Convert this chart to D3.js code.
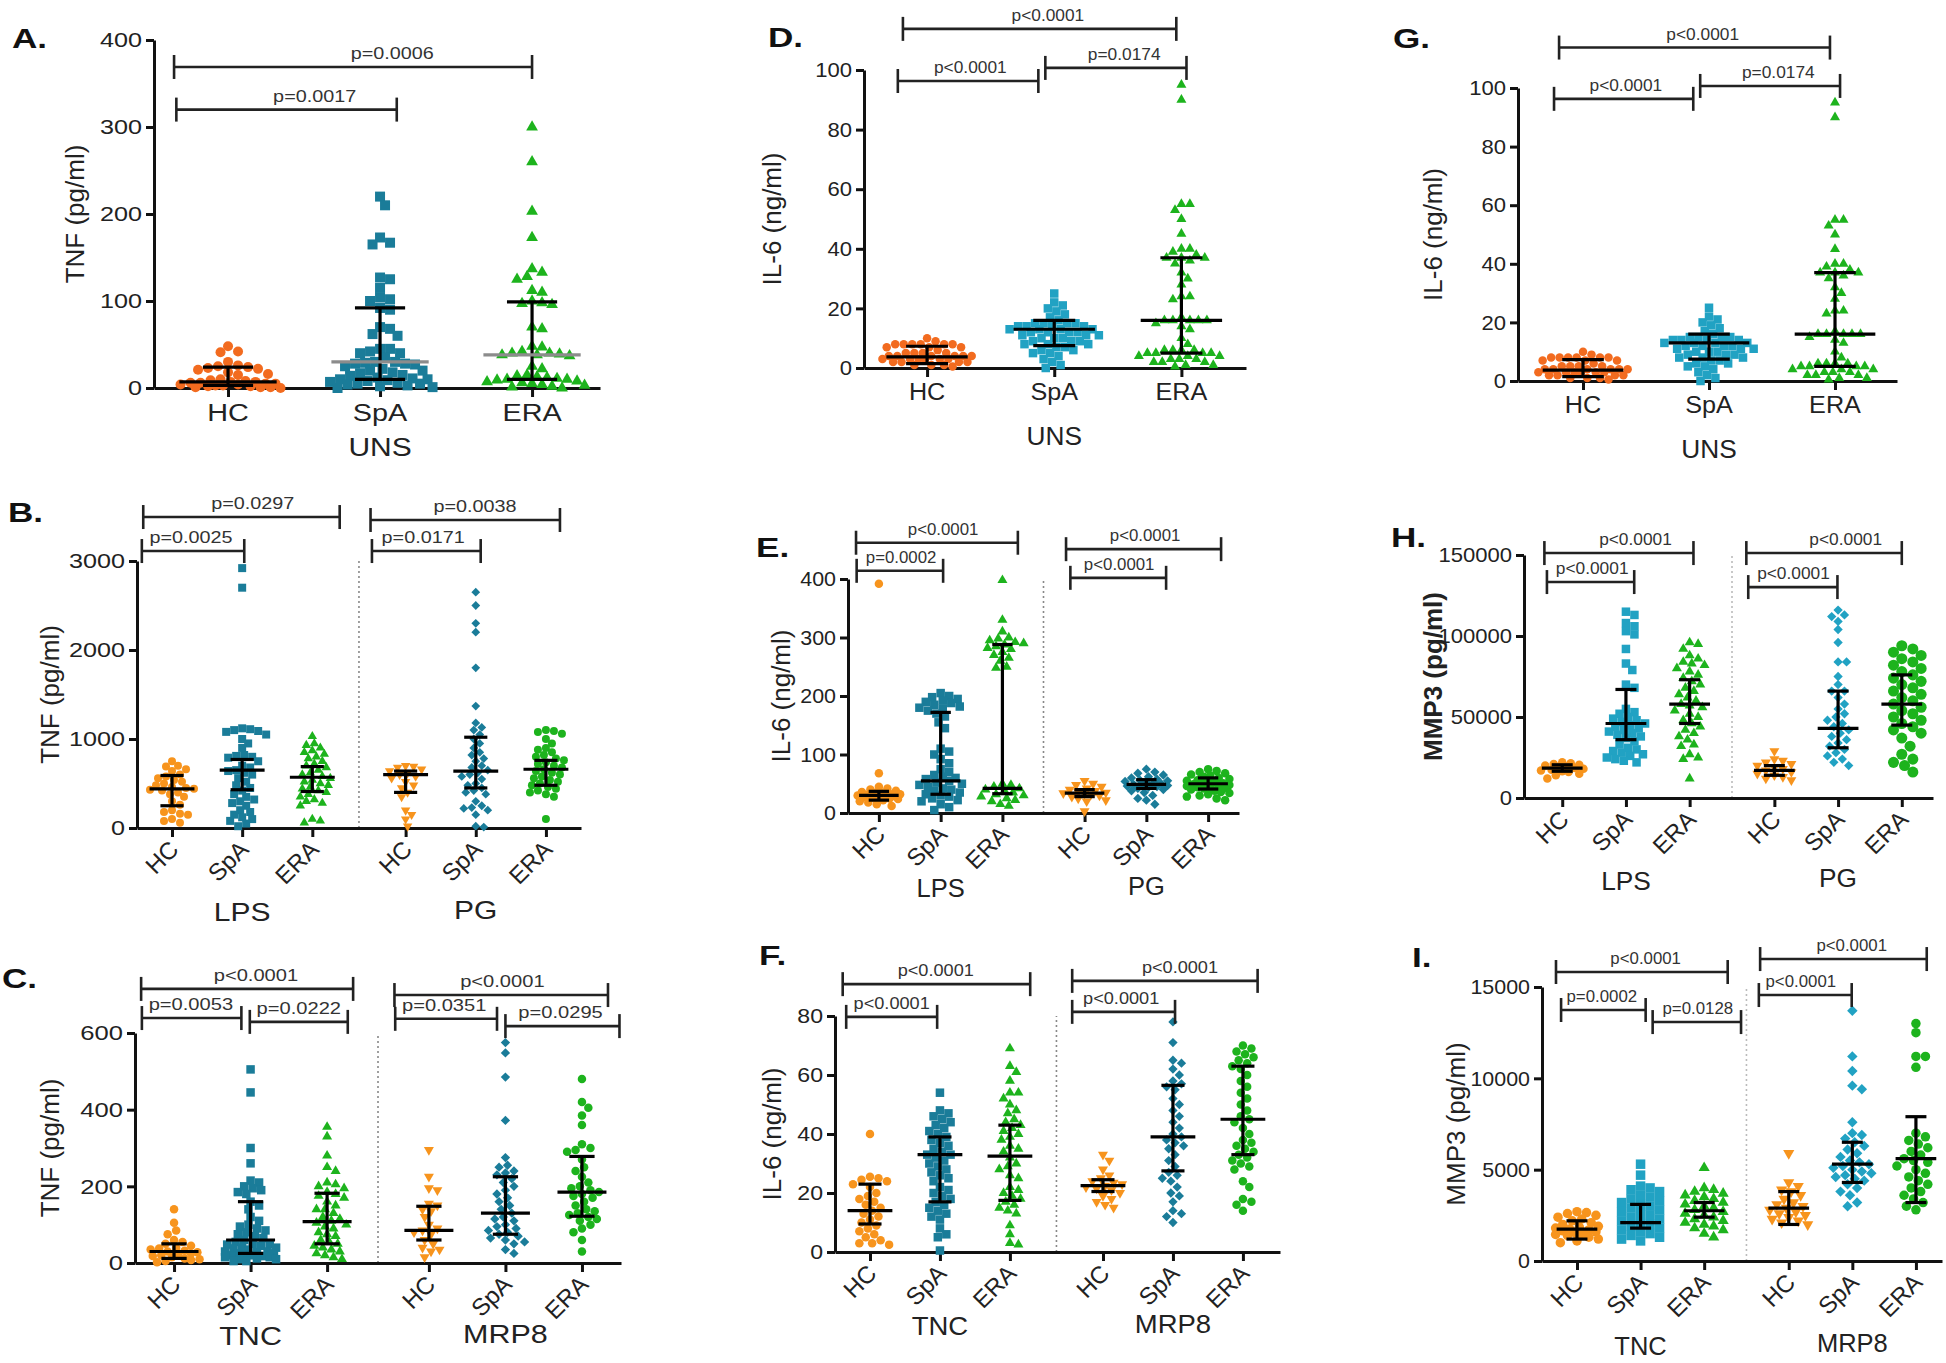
<!DOCTYPE html>
<html>
<head>
<meta charset="utf-8">
<script src="https://cdn.jsdelivr.net/npm/d3@7"></script>
<style>
  body { margin: 0; background: #fff; }
  svg { display: block; font-family: "Liberation Sans", Arial, sans-serif; }
</style>
</head>
<body>
<svg id="chart" width="1946" height="1363"></svg>
<script>
// ---- categories / tick labels ----
const cats3 = ["HC", "SpA", "ERA"];
const cats6 = ["HC", "SpA", "ERA", "HC", "SpA", "ERA"];

// ---- A. TNF, unstimulated ----
const tnfUnsHC = [48, 42, 41, 30, 26, 25, 24, 23, 22, 21, 18, 16, 15, 10, 9, 8, 7, 7, 6, 6, 5, 5, 4, 4, 3, 3, 2, 2, 1, 1, 1, 0];
const tnfUnsSpA = [220, 210, 173, 167, 165, 127, 125, 115, 104, 102, 100, 92, 90, 70, 68, 62, 60, 45, 45, 42, 40, 40, 35, 30, 30, 29, 28, 28, 27, 25, 22, 20, 20, 18, 17, 15, 14, 12, 11, 10, 10, 9, 8, 7, 6, 5, 5, 4, 3, 2, 1, 0];
const tnfUnsERA = [300, 260, 203, 173, 137, 133, 128, 125, 112, 110, 100, 98, 97, 96, 70, 68, 48, 47, 42, 40, 40, 39, 38, 38, 37, 25, 22, 15, 14, 13, 12, 11, 10, 10, 9, 8, 7, 6, 5, 4, 3, 2, 1, 0];
const tnfUnsStats = [[7, 3, 24], [30, 10, 92], [38, 10, 99]]; // median, q1, q3
const tnfUnsP = [[-0.355, 2.0, 369, 1.08, "p=0.0006"], [-0.34, 1.11, 320, 0.57, "p=0.0017"]];

// ---- B. TNF, LPS / PG ----
const tnfLpsHC = [750, 700, 690, 660, 640, 600, 580, 560, 540, 520, 500, 480, 460, 450, 440, 430, 420, 400, 380, 350, 300, 260, 200, 180, 160, 150, 100, 80, 60];
const tnfLpsSpA = [2920, 2700, 1120, 1110, 1100, 1090, 1080, 1050, 1000, 950, 900, 820, 810, 800, 790, 750, 700, 680, 650, 640, 620, 600, 560, 520, 480, 450, 420, 380, 350, 320, 300, 280, 250, 200, 180, 150, 120, 100, 80, 50, 20];
const tnfLpsERA = [1030, 950, 930, 900, 870, 850, 830, 800, 780, 750, 720, 700, 680, 650, 620, 600, 580, 560, 540, 520, 500, 480, 460, 440, 420, 400, 380, 350, 320, 300, 280, 250, 100, 80, 60];
const tnfPgHC = [700, 690, 680, 660, 640, 620, 600, 580, 560, 520, 480, 450, 400, 350, 200, 150, 100, 20];
const tnfPgSpA = [2650, 2500, 2300, 2200, 1800, 1370, 1180, 1130, 1100, 1050, 1000, 950, 900, 850, 820, 780, 750, 700, 680, 650, 620, 600, 580, 550, 500, 480, 450, 420, 400, 380, 300, 250, 230, 220, 200, 150, 20, 10];
const tnfPgERA = [1100, 1090, 1080, 1060, 1000, 950, 900, 880, 850, 820, 800, 780, 760, 740, 720, 700, 680, 660, 640, 620, 600, 580, 560, 540, 520, 500, 480, 460, 440, 420, 400, 380, 350, 100];
const tnfLpsPgStats = [[440, 250, 590], [650, 430, 770], [570, 410, 690], [600, 400, 640], [640, 450, 1020], [660, 480, 760]];
const tnfLpsPgP = [[-0.41, 2.39, 3494, 1.15, "p=0.0297"], [-0.43, 1.03, 3112, 0.27, "p=0.0025"],
                   [2.83, 5.53, 3461, 4.32, "p=0.0038"], [2.85, 4.40, 3112, 3.58, "p=0.0171"]];

// ---- C. TNF, TNC / MRP8 ----
const tnfTncHC = [140, 105, 85, 75, 60, 55, 50, 45, 40, 38, 35, 32, 30, 28, 25, 22, 20, 18, 15, 12, 10, 8, 5, 2];
const tnfTncSpA = [505, 445, 300, 260, 215, 210, 200, 195, 190, 185, 180, 160, 150, 140, 120, 110, 100, 95, 90, 85, 80, 75, 70, 65, 60, 55, 50, 50, 48, 45, 40, 40, 38, 35, 30, 30, 28, 25, 25, 22, 20, 20, 18, 15, 15, 12, 10, 10, 5, 5];
const tnfTncERA = [355, 330, 280, 250, 240, 210, 205, 200, 195, 185, 180, 175, 170, 160, 150, 140, 140, 130, 120, 115, 110, 105, 100, 95, 90, 80, 75, 70, 60, 55, 50, 45, 40, 35, 30, 25, 20, 15, 10];
const tnfMrpHC = [295, 225, 195, 190, 155, 150, 140, 135, 120, 100, 90, 85, 80, 75, 60, 50, 40, 35, 30, 15];
const tnfMrpSpA = [575, 548, 485, 372, 275, 255, 250, 240, 235, 230, 220, 210, 200, 190, 180, 170, 160, 150, 140, 130, 120, 115, 110, 100, 95, 90, 85, 80, 75, 70, 65, 60, 55, 50, 35, 25];
const tnfMrpERA = [480, 420, 405, 385, 360, 310, 300, 295, 290, 270, 250, 240, 225, 210, 200, 195, 190, 185, 180, 175, 170, 160, 150, 140, 135, 130, 125, 120, 115, 110, 100, 90, 80, 60, 30];
const tnfTncMrpStats = [[30, 12, 50], [60, 25, 160], [108, 50, 182], [85, 60, 148], [130, 75, 225], [185, 122, 278]];
const tnfTncMrpP = [[-0.43, 2.34, 715, 1.07, "p<0.0001"], [-0.42, 0.88, 639, 0.22, "p=0.0053"], [0.99, 2.27, 629, 1.63, "p=0.0222"],
                    [2.88, 5.67, 699, 4.29, "p<0.0001"], [2.89, 4.22, 637, 3.53, "p=0.0351"], [4.33, 5.82, 618, 5.05, "p=0.0295"]];

// ---- D./G. IL-6, unstimulated ----
const il6UnsHC = [10, 9, 8, 8, 8, 8, 8, 8, 7, 7, 7, 6, 5, 5, 5, 5, 4, 4, 4, 4, 4, 4, 3, 3, 3, 3, 3, 3, 2, 2, 2, 2, 1, 1, 1, 0.5];
const il6UnsSpA = [25, 22, 21, 20, 19, 18, 17, 16, 15, 15, 15, 15, 14, 14, 14, 14, 13, 13, 13, 13, 12, 12, 12, 12, 11, 11, 11, 10, 10, 10, 9, 9, 9, 8, 8, 8, 7, 7, 6, 6, 5, 5, 4, 3, 2, 1, 0];
const il6UnsERA = [95, 90, 55, 55, 53, 50, 45, 40, 40, 39, 38, 37, 37, 37, 36, 35, 32, 30, 28, 24, 24, 23, 17, 16, 16, 16, 16, 16, 15, 14, 13, 10, 8, 6, 6, 6, 6, 5, 5, 5, 5, 4, 4, 4, 3, 3, 3, 2, 2, 2, 1, 1, 0.5];
const il6UnsStats = [[3.7, 1.5, 7.3], [13, 7.5, 16], [16, 5, 37]];
const il6UnsP = [[-0.19, 1.96, 113.8, 0.95, "p<0.0001"], [-0.23, 0.875, 96.3, 0.34, "p<0.0001"], [0.93, 2.04, 100.7, 1.55, "p=0.0174"]];

// ---- E. IL-6, LPS / PG ----
const il6LpsHC = [392, 68, 45, 42, 40, 38, 36, 35, 34, 33, 32, 31, 30, 30, 29, 28, 27, 26, 25, 24, 22, 20, 18, 15, 12];
const il6LpsSpA = [205, 200, 198, 195, 192, 190, 188, 185, 182, 180, 178, 175, 170, 165, 155, 145, 110, 105, 100, 92, 85, 75, 70, 65, 62, 60, 58, 55, 52, 50, 48, 45, 42, 40, 38, 35, 32, 30, 28, 25, 22, 20, 15, 10, 5];
const il6LpsERA = [398, 330, 310, 300, 298, 295, 292, 290, 288, 285, 282, 280, 275, 270, 265, 260, 250, 248, 50, 48, 45, 42, 40, 38, 35, 32, 30, 28, 25, 22, 20, 15, 12];
const il6PgHC = [55, 50, 48, 45, 42, 40, 38, 36, 35, 34, 33, 32, 30, 28, 25, 22, 20, 3];
const il6PgSpA = [75, 70, 68, 65, 62, 60, 58, 56, 55, 54, 52, 50, 50, 49, 48, 47, 46, 45, 44, 42, 40, 38, 35, 30, 25, 22, 15];
const il6PgERA = [75, 72, 70, 68, 66, 64, 62, 60, 58, 56, 55, 54, 52, 51, 50, 49, 48, 47, 46, 45, 44, 43, 42, 40, 38, 36, 34, 32, 30, 28, 25, 22];
const il6LpsPgStats = [[30, 22, 37], [55, 32, 172], [42, 33, 288], [34, 28, 40], [49, 42, 57], [50, 41, 60]];
const il6LpsPgP = [[-0.37, 2.25, 462, 1.04, "p<0.0001"], [-0.36, 1.04, 414, 0.36, "p=0.0002"],
                   [3.03, 5.54, 451, 4.31, "p<0.0001"], [3.10, 4.65, 402, 3.89, "p<0.0001"]];

// ---- F. IL-6, TNC / MRP8 ----
const il6TncHC = [40, 25.5, 25, 24.5, 24, 23, 22, 20, 19, 18, 17, 16, 15, 14, 13, 12, 11, 10, 9, 8, 7, 6, 5, 4, 3, 3, 2.5];
const il6TncSpA = [54, 48, 47, 46, 45, 44, 43, 42, 41, 40, 39, 38, 37, 36, 35, 34, 33, 33, 32, 31, 30, 29, 28, 27, 26, 25, 24, 22, 21, 20, 19, 18, 17, 16, 15, 14, 13, 12, 11, 8, 6, 5, 0.5];
const il6TncERA = [69, 63, 61, 58, 54, 54, 52, 50, 48, 47, 45, 44, 43, 42, 41, 40, 39, 38, 36, 35, 34, 32, 30, 29, 28, 26, 25, 22, 21, 20, 19, 18, 17, 16, 15, 14, 13, 9, 6, 3, 2.5];
const il6MrpHC = [33, 31, 28, 26, 25, 24, 23.5, 23, 22.5, 22, 21.5, 21, 20, 19, 18, 17, 16, 15];
const il6MrpSpA = [78, 71, 65, 64, 62, 60, 58, 57, 56, 55, 52, 50, 48, 46, 44, 42, 40, 39, 38, 37, 36, 35, 33, 31, 29, 27, 26, 25, 24, 22, 20, 19, 17, 14, 13, 12, 10];
const il6MrpERA = [70, 69, 68, 67, 66, 65, 64, 63, 62, 60, 58, 56, 54, 52, 50, 48, 46, 45, 44, 42, 40, 38, 37, 36, 35, 34, 33, 32, 31, 30, 29, 28, 24, 22, 18, 17, 16, 14];
const il6TncMrpStats = [[14, 9.5, 23], [33, 17, 39], [32.5, 17.5, 43], [22.5, 20.5, 24.5], [39, 27.5, 56.5], [45, 33, 63]];
const il6TncMrpP = [[-0.39, 2.29, 90.8, 0.94, "p<0.0001"], [-0.34, 0.96, 79.7, 0.31, "p<0.0001"],
                    [2.89, 5.54, 91.9, 4.43, "p<0.0001"], [2.89, 4.36, 81.4, 3.59, "p<0.0001"]];

// ---- H. MMP3, LPS / PG ----
const mmpLpsHC = [22000, 21500, 21000, 20500, 20000, 19500, 19000, 18500, 18000, 17500, 17000, 16500, 16000, 15000, 14000, 12000];
const mmpLpsSpA = [115000, 113000, 108000, 106000, 103000, 101000, 92000, 83000, 79000, 70000, 68000, 55000, 53000, 52000, 50000, 49000, 48000, 47000, 46000, 45000, 44000, 43000, 42000, 41000, 40000, 39000, 38000, 37000, 35000, 33000, 31000, 30000, 29000, 28000, 27000, 26000, 25000, 24000, 23000, 22000];
const mmpLpsERA = [96000, 95000, 92000, 88000, 86000, 84000, 83000, 82000, 80000, 78000, 76000, 74000, 72000, 70000, 68000, 66000, 64000, 62000, 60000, 58000, 57000, 56000, 54000, 52000, 50000, 48000, 46000, 44000, 42000, 40000, 38000, 36000, 33000, 32000, 27000, 25000, 24000, 12000];
const mmpPgHC = [29000, 24000, 23000, 22000, 21000, 20000, 19000, 18000, 17000, 16000, 15000, 14000, 13000, 12000, 11000];
const mmpPgSpA = [116000, 113000, 112000, 109000, 104000, 96000, 84000, 84000, 75000, 70000, 66000, 66000, 62000, 58000, 55000, 52000, 50000, 48000, 46000, 44000, 42000, 40000, 38000, 36000, 34000, 32000, 30000, 28000, 26000, 24000, 22000, 20000];
const mmpPgERA = [94000, 92000, 90000, 88000, 86000, 84000, 82000, 80000, 78000, 76000, 74000, 72000, 70000, 68000, 66000, 64000, 62000, 60000, 58000, 56000, 54000, 52000, 50000, 48000, 46000, 44000, 42000, 40000, 37000, 32000, 27000, 24000, 22000, 20000, 16000];
const mmpLpsPgStats = [[18500, 16500, 20500], [46000, 36000, 67000], [58000, 46000, 73000], [17000, 14000, 20000], [43000, 31000, 66000], [58000, 45000, 76000]];
const mmpLpsPgP = [[-0.28, 2.06, 151200, 1.15, "p<0.0001"], [-0.24, 1.13, 133300, 0.47, "p<0.0001"],
                   [2.89, 5.33, 151200, 4.45, "p<0.0001"], [2.92, 4.32, 130200, 3.63, "p<0.0001"]];

// ---- I. MMP3, TNC / MRP8 ----
const mmpTncHC = [2700, 2650, 2600, 2500, 2400, 2300, 2200, 2100, 2000, 1900, 1850, 1800, 1750, 1700, 1650, 1600, 1550, 1500, 1450, 1400, 1300, 1200, 1100, 1000];
const mmpTncSpA = [5300, 4700, 4100, 4000, 3900, 3800, 3600, 3500, 3400, 3300, 3200, 3100, 3000, 2900, 2800, 2700, 2600, 2500, 2400, 2300, 2200, 2100, 2000, 1900, 1800, 1700, 1600, 1500, 1400, 1300, 1200, 1100];
const mmpTncERA = [5100, 4000, 3900, 3800, 3700, 3600, 3500, 3400, 3300, 3200, 3100, 3000, 2900, 2800, 2700, 2600, 2500, 2400, 2300, 2200, 2100, 2000, 1900, 1800, 1700, 1500, 1300];
const mmpMrpHC = [5900, 4300, 4100, 3900, 3800, 3600, 3400, 3200, 3100, 3000, 2900, 2800, 2700, 2600, 2500, 2400, 2300, 2200, 2100, 2000];
const mmpMrpSpA = [13700, 11200, 10400, 9600, 9400, 7600, 7000, 6900, 6700, 6500, 6300, 6100, 5900, 5700, 5500, 5400, 5300, 5200, 5100, 5000, 4900, 4800, 4700, 4600, 4500, 4400, 4200, 4000, 3800, 3600, 3200, 3000];
const mmpMrpERA = [13000, 12500, 11200, 11200, 10600, 7000, 6800, 6600, 6400, 6200, 6000, 5800, 5600, 5500, 5400, 5200, 5000, 4800, 4600, 4400, 4200, 4000, 3800, 3600, 3400, 3200, 3000, 2800];
const mmpTncMrpStats = [[1750, 1200, 2200], [2100, 1800, 3100], [2750, 2400, 3200], [2900, 2000, 3800], [5300, 4300, 6500], [5600, 3200, 7900]];
const mmpTncMrpP = [[-0.33, 2.37, 15820, 1.08, "p<0.0001"], [-0.25, 1.08, 13740, 0.39, "p=0.0002"], [1.19, 2.58, 13080, 1.90, "p=0.0128"],
                    [2.88, 5.50, 16530, 4.32, "p<0.0001"], [2.86, 4.32, 14560, 3.52, "p<0.0001"]];

// ---- styling ----
const orange = "#F7941D", orangeRed = "#F26B1F", tealDark = "#1A7C99", tealLight = "#21A2C3", green = "#1DB31D";
const shapes6 = ["circle", "square", "triangle", "triangleDown", "diamond", "circle"];
const slots3 = [0, 1, 2];
const slots6 = [0, 1, 2, 3.33, 4.33, 5.33];

const panels = [
  { letter: "A.", lx: 12, ly: 48, yLabel: "TNF (pg/ml)", ylx: 75, axisX: 154, xEnd: 600, y0: 388, yTop: 40,
    ticks: [0, 100, 200, 300, 400], xDomain: [-0.487, 2.447], cats: cats3, slots: slots3, rotate: false, catY: 421,
    groups: [["UNS", 1, 456]], series: [tnfUnsHC, tnfUnsSpA, tnfUnsERA], stats: tnfUnsStats, brackets: tnfUnsP,
    colors: [orangeRed, tealDark, green], dot: 10, medColors: ["#000", "#8c8c8c", "#8c8c8c"], sx: 1.2 },
  { letter: "B.", lx: 8, ly: 522, yLabel: "TNF (pg/ml)", ylx: 50, axisX: 137, xEnd: 581, y0: 828, yTop: 561,
    ticks: [0, 1000, 2000, 3000], xDomain: [-0.499, 5.83], cats: cats6, slots: slots6, rotate: true,
    groups: [["LPS", 1, 921], ["PG", 4.33, 919]], series: [tnfLpsHC, tnfLpsSpA, tnfLpsERA, tnfPgHC, tnfPgSpA, tnfPgERA],
    stats: tnfLpsPgStats, brackets: tnfLpsPgP, colors: [orange, tealDark, green, orange, tealDark, green], dot: 8, divider: "#888", sx: 1.2 },
  { letter: "C.", lx: 2, ly: 988, yLabel: "TNF (pg/ml)", ylx: 50, axisX: 135, xEnd: 621, y0: 1263, yTop: 1033,
    ticks: [0, 200, 400, 600], xDomain: [-0.51, 5.84], cats: cats6, slots: slots6, rotate: true,
    groups: [["TNC", 1, 1345], ["MRP8", 4.33, 1343]], series: [tnfTncHC, tnfTncSpA, tnfTncERA, tnfMrpHC, tnfMrpSpA, tnfMrpERA],
    stats: tnfTncMrpStats, brackets: tnfTncMrpP, colors: [orange, tealDark, green, orange, tealDark, green], dot: 8.5, divider: "#888", sx: 1.22 },
  { letter: "D.", lx: 768, ly: 47, yLabel: "IL-6 (ng/ml)", ylx: 772, axisX: 864, xEnd: 1246, y0: 368, yTop: 70,
    ticks: [0, 20, 40, 60, 80, 100], xDomain: [-0.496, 2.508], cats: cats3, slots: slots3, rotate: false, catY: 400,
    groups: [["UNS", 1, 445]], series: [il6UnsHC, il6UnsSpA, il6UnsERA], stats: il6UnsStats, brackets: il6UnsP,
    colors: [orangeRed, tealLight, green], dot: 8.5, sx: 1.05 },
  { letter: "E.", lx: 756, ly: 557, yLabel: "IL-6 (ng/ml)", ylx: 781, axisX: 848, xEnd: 1239, y0: 813, yTop: 579,
    ticks: [0, 100, 200, 300, 400], xDomain: [-0.50, 5.83], cats: cats6, slots: slots6, rotate: true,
    groups: [["LPS", 1, 897], ["PG", 4.33, 895]], series: [il6LpsHC, il6LpsSpA, il6LpsERA, il6PgHC, il6PgSpA, il6PgERA],
    stats: il6LpsPgStats, brackets: il6LpsPgP, colors: [orange, tealDark, green, orange, tealDark, green], dot: 8.5, divider: "#888", sx: 1.02 },
  { letter: "F.", lx: 759, ly: 965, yLabel: "IL-6 (ng/ml)", ylx: 772, axisX: 835, xEnd: 1280, y0: 1252, yTop: 1016,
    ticks: [0, 20, 40, 60, 80], xDomain: [-0.50, 5.86], cats: cats6, slots: slots6, rotate: true,
    groups: [["TNC", 1, 1335], ["MRP8", 4.33, 1333]], series: [il6TncHC, il6TncSpA, il6TncERA, il6MrpHC, il6MrpSpA, il6MrpERA],
    stats: il6TncMrpStats, brackets: il6TncMrpP, colors: [orange, tealDark, green, orange, tealDark, green], dot: 8.5, divider: "#888", sx: 1.1 },
  { letter: "G.", lx: 1393, ly: 48, yLabel: "IL-6 (ng/ml)", ylx: 1433, axisX: 1518, xEnd: 1897, y0: 381, yTop: 88,
    ticks: [0, 20, 40, 60, 80, 100], xDomain: [-0.516, 2.492], cats: cats3, slots: slots3, rotate: false, catY: 413,
    groups: [["UNS", 1, 458]], series: [il6UnsHC, il6UnsSpA, il6UnsERA], stats: il6UnsStats, brackets: il6UnsP,
    colors: [orangeRed, tealLight, green], dot: 8.5, sx: 1.05 },
  { letter: "H.", lx: 1391, ly: 547, yLabel: "MMP3 (pg/ml)", ylx: 1433, axisX: 1524, xEnd: 1933, y0: 798, yTop: 555,
    ticks: [0, 50000, 100000, 150000], xDomain: [-0.6, 5.82], cats: cats6, slots: slots6, rotate: true,
    groups: [["LPS", 1, 890], ["PG", 4.33, 887]], series: [mmpLpsHC, mmpLpsSpA, mmpLpsERA, mmpPgHC, mmpPgSpA, mmpPgERA],
    stats: mmpLpsPgStats, brackets: mmpLpsPgP, colors: [orange, tealLight, green, orange, tealLight, green], dot: 8.5,
    dotScale: [1, 1, 1, 1, 1, 1.3], divider: "#bbb", yLabelWeight: "bold", sx: 1.05 },
  { letter: "I.", lx: 1412, ly: 967, yLabel: "MMP3 (pg/ml)", ylx: 1456, axisX: 1542, xEnd: 1942, y0: 1261, yTop: 987,
    ticks: [0, 5000, 10000, 15000], xDomain: [-0.55, 5.74], cats: cats6, slots: slots6, rotate: true,
    groups: [["TNC", 1, 1355], ["MRP8", 4.33, 1352]], series: [mmpTncHC, mmpTncSpA, mmpTncERA, mmpMrpHC, mmpMrpSpA, mmpMrpERA],
    stats: mmpTncMrpStats, brackets: mmpTncMrpP, colors: [orange, tealLight, green, orange, tealLight, green], dot: 9.5, divider: "#bbb", sx: 1.02 }
];

const svg = d3.select("#chart");
svg.append("rect").attr("width", 1946).attr("height", 1363).attr("fill", "#fff");

function symbolPath(shape, d) {
  if (shape === "circle") return d3.symbol(d3.symbolCircle, Math.PI * (d / 2) * (d / 2))();
  if (shape === "square") return d3.symbol(d3.symbolSquare, d * d)();
  if (shape === "diamond") return d3.symbol(d3.symbolSquare, d * d * 0.6)();
  return d3.symbol(d3.symbolTriangle, d * d * 0.6)();
}

// beeswarm limited to +-maxW: nearest free spot, else the least crowded one
function swarm(values, y, cx, d, maxW) {
  const pts = [];
  const n = Math.floor(maxW / (d * 0.25));
  values.slice().sort((a, b) => b - a).forEach(v => {
    const py = y(v);
    let best = cx, bestD = -1;
    for (let i = 0; i <= 2 * n; i++) {
      const k = Math.ceil(i / 2) * (i % 2 ? 1 : -1);
      const px = cx + k * d * 0.25;
      let md = Infinity;
      pts.forEach(p => { md = Math.min(md, Math.hypot(p.x - px, p.y - py)); });
      if (md >= d * 0.92) { best = px; break; }
      if (md > bestD + 0.01) { bestD = md; best = px; }
    }
    pts.push({ x: best, y: py });
  });
  return pts;
}

// horizontal text, stretched sideways like the source figure
function htext(g, x, y, str, size, sx, anchor) {
  return g.append("text").attr("transform", `translate(${x},${y}) scale(${sx},1)`)
    .attr("text-anchor", anchor || "middle").attr("font-size", size).attr("fill", "#222").text(str);
}

panels.forEach(p => {
  const g = svg.append("g");
  const yMax = p.ticks[p.ticks.length - 1];
  const y = d3.scaleLinear().domain([0, yMax]).range([p.y0, p.yTop]);
  const x = d3.scaleLinear().domain(p.xDomain).range([p.axisX, p.xEnd]);
  const step = x(1) - x(0);

  if (p.divider) {
    g.append("line").attr("x1", x(2.665)).attr("x2", x(2.665)).attr("y1", p.y0).attr("y2", p.yTop)
      .attr("stroke", p.divider).attr("stroke-width", 1.6).attr("stroke-dasharray", "2,3");
  }

  // axes
  const yAxis = g.append("g").attr("transform", `translate(${p.axisX},0)`)
    .call(d3.axisLeft(y).tickValues(p.ticks).tickSize(8).tickSizeOuter(0).tickPadding(4).tickFormat(d3.format("d")));
  yAxis.selectAll("path, line").attr("stroke", "#111").attr("stroke-width", 3);
  yAxis.selectAll("text").attr("font-size", 21).attr("fill", "#222").attr("font-family", null)
    .attr("x", -12 / p.sx).attr("transform", `scale(${p.sx},1)`);

  const xAxis = g.append("g").attr("transform", `translate(0,${p.y0})`)
    .call(d3.axisBottom(x).tickValues(p.slots).tickSize(9).tickSizeOuter(0).tickFormat(""));
  xAxis.selectAll("path, line").attr("stroke", "#111").attr("stroke-width", 3);

  // category labels
  p.cats.forEach((c, i) => {
    const cx = x(p.slots[i]);
    if (p.rotate) {
      g.append("text").attr("transform", `translate(${cx + 2},${p.y0 + 17}) rotate(-45)`)
        .attr("text-anchor", "end").attr("dy", "0.35em").attr("font-size", 24).attr("fill", "#222").text(c);
    } else {
      htext(g, cx, p.catY, c, 24, p.sx);
    }
  });
  p.groups.forEach(([t, s, gy]) => htext(g, x(s), gy, t, 25, p.sx));

  // y label & panel letter
  g.append("text").attr("transform", `translate(${p.ylx},${(p.y0 + p.yTop) / 2}) rotate(-90)`)
    .attr("text-anchor", "middle").attr("dy", "0.35em").attr("font-size", 26)
    .attr("font-weight", p.yLabelWeight || "normal").attr("fill", "#222").text(p.yLabel);
  htext(g, p.lx, p.ly, p.letter, 27, 1.3, "start").attr("font-weight", "bold").attr("fill", "#111");

  // points
  p.series.forEach((vals, i) => {
    const cx = x(p.slots[i]);
    const d = p.dot * (p.dotScale ? p.dotScale[i] : 1);
    const shape = p.cats.length === 3 ? ["circle", "square", "triangle"][i] : shapes6[i];
    const path = symbolPath(shape, d);
    const rot = shape === "triangleDown" ? " rotate(180)" : shape === "diamond" ? " rotate(45)" : "";
    g.append("g").selectAll("path").data(swarm(vals, y, cx, d, step * 0.36)).join("path")
      .attr("d", path).attr("transform", q => `translate(${q.x},${q.y})${rot}`)
      .attr("fill", p.colors[i]);
  });

  // median + IQR bars
  p.stats.forEach(([med, q1, q3], i) => {
    const cx = x(p.slots[i]);
    const medW = step * 0.32, capW = step * 0.165;
    const bars = g.append("g").attr("stroke", "#000").attr("stroke-width", 3.2);
    bars.append("line").attr("x1", cx).attr("x2", cx).attr("y1", y(q1)).attr("y2", y(q3));
    [q1, q3].forEach(q => bars.append("line").attr("x1", cx - capW).attr("x2", cx + capW).attr("y1", y(q)).attr("y2", y(q)));
    bars.append("line").attr("x1", cx - medW).attr("x2", cx + medW).attr("y1", y(med)).attr("y2", y(med))
      .attr("stroke", p.medColors ? p.medColors[i] : "#000");
  });

  // significance brackets
  p.brackets.forEach(([s1, s2, v, sl, label]) => {
    const by = y(v);
    const b = g.append("g").attr("stroke", "#222").attr("stroke-width", 2.6).attr("fill", "none");
    b.append("line").attr("x1", x(s1)).attr("x2", x(s2)).attr("y1", by).attr("y2", by);
    [s1, s2].forEach(s => b.append("line").attr("x1", x(s)).attr("x2", x(s)).attr("y1", by - 12).attr("y2", by + 12));
    htext(g, x(sl), by - 8, label, 16.5, p.sx).attr("fill", "#333");
  });
});
</script>
</body>
</html>
